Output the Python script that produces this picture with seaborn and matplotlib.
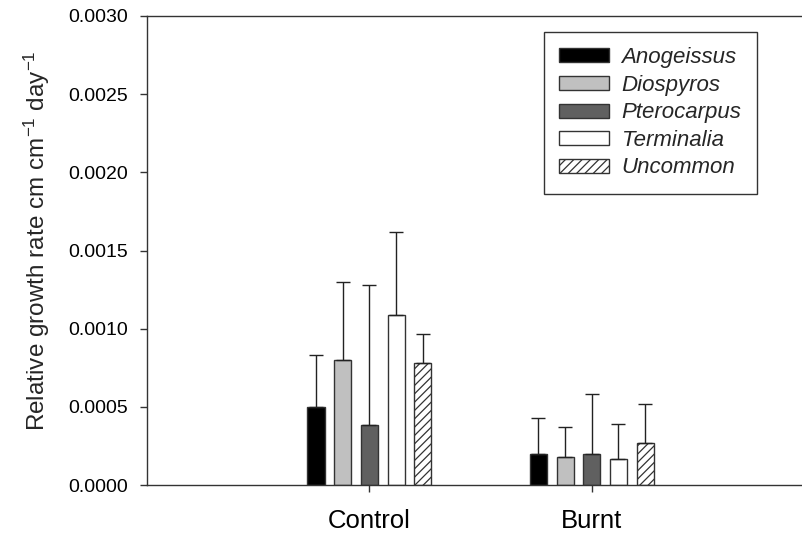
import numpy as np
import pandas as pd
import matplotlib
matplotlib.use("Agg")
import matplotlib.pyplot as plt
from matplotlib.ticker import FormatStrFormatter
import seaborn as sns

treatments = ["Control", "Burnt"]
species = ["Anogeissus", "Diospyros", "Pterocarpus", "Terminalia", "Uncommon"]

# mean relative growth rate per species, one list per treatment
control_mean = [0.000500, 0.000800, 0.000384, 0.001088, 0.000778]
burnt_mean = [0.000198, 0.000180, 0.000196, 0.000168, 0.000270]

# upper error bar (only the upper half is drawn in the original)
control_err = [0.000334, 0.000500, 0.000896, 0.000531, 0.000186]
burnt_err = [0.000232, 0.000193, 0.000386, 0.000220, 0.000250]

yticks = [0.0, 0.0005, 0.0010, 0.0015, 0.0020, 0.0025, 0.0030]

colors = ["#000000", "#c0c0c0", "#606060", "#ffffff", "#ffffff"]

df = pd.DataFrame({
    "treatment": np.repeat(treatments, len(species)),
    "species": species * len(treatments),
    "rgr": control_mean + burnt_mean,
    "err": control_err + burnt_err,
})

sns.set_style("ticks")
plt.rcParams["font.family"] = ["Liberation Sans", "DejaVu Sans"]
plt.rcParams["mathtext.fontset"] = "custom"
plt.rcParams["mathtext.rm"] = "Liberation Sans"
plt.rcParams["mathtext.it"] = "Liberation Sans:italic"
plt.rcParams["hatch.linewidth"] = 0.9

fig = plt.figure(figsize=(8.03, 5.33), dpi=100)
ax = fig.add_axes([147 / 803, 48 / 533, 656 / 803, 469 / 533])

sns.barplot(data=df, x="treatment", y="rgr", hue="species",
            order=treatments, hue_order=species, palette=colors,
            width=0.6, gap=0.36, errorbar=None, saturation=1,
            edgecolor="#333333", linewidth=1.0, ax=ax)

# hatch the last hue level and add upper-only error bars
for name, cont in zip(species, ax.containers):
    sub = df[df["species"] == name].set_index("treatment").loc[treatments]
    xs = [b.get_x() + b.get_width() / 2 for b in cont]
    ys = [b.get_height() for b in cont]
    if name == "Uncommon":
        for b in cont:
            b.set_hatch("////")
    ax.errorbar(xs, ys, yerr=[np.zeros(len(xs)), sub["err"].values],
                fmt="none", ecolor="#222222", elinewidth=1.0,
                capsize=5, capthick=1.0, zorder=3)

ax.set_xlim(-1, 1.95)
ax.set_ylim(0, 0.003)
ax.set_yticks(yticks)
ax.yaxis.set_major_formatter(FormatStrFormatter("%.4f"))
ax.set_xlabel("")
ax.set_ylabel(r"Relative growth rate cm cm$^{\mathrm{-1}}$ day$^{\mathrm{-1}}$",
              fontsize=17.5, labelpad=12, y=0.52)

ax.tick_params(axis="y", labelsize=14, length=5, width=1, pad=8.5, colors="#333333", labelcolor="black")
ax.tick_params(axis="x", labelsize=18.5, length=5, width=1, pad=12, colors="#333333", labelcolor="black")

for side in ["left", "bottom", "top"]:
    ax.spines[side].set_color("#333333")
    ax.spines[side].set_linewidth(1.0)
ax.spines["right"].set_visible(False)

handles, labels = ax.get_legend_handles_labels()
leg = ax.legend(handles, labels, loc="upper right",
                bbox_to_anchor=(757 / 803, 1 - 31.7 / 533),
                bbox_transform=fig.transFigure,
                prop={"style": "italic", "size": 16},
                fancybox=False, framealpha=1, edgecolor="#333333",
                handlelength=2.25, handleheight=0.59, handletextpad=0.55,
                labelspacing=0.295, borderpad=0.7, borderaxespad=0)
leg.get_frame().set_linewidth(1.0)
for name, h in zip(species, leg.legend_handles):
    h.set_edgecolor("#333333")
    if name == "Uncommon":
        h.set_hatch("////")

fig.savefig("out.png", dpi=100)
